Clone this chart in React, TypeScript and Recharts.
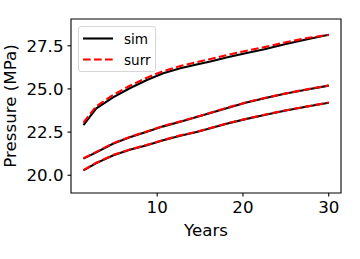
import React from 'react';
import { LineChart, Line, XAxis, YAxis, ReferenceArea, Label } from 'recharts';

// years at which the pressure was sampled
const years = [1.4, 2.9, 4.9, 6.8, 8.8, 10.7, 12.7, 14.6, 16.2, 18.2, 20.3, 22.5, 25, 27.5, 30];

// pressure (MPa), three wells: simulator vs surrogate
const topSim = [22.9, 23.88, 24.52, 25.04, 25.52, 25.91, 26.2, 26.42, 26.59, 26.84, 27.07, 27.3, 27.6, 27.88, 28.14];
const topSurr = [23.05, 24.0, 24.66, 25.18, 25.65, 26.03, 26.33, 26.55, 26.73, 26.97, 27.2, 27.42, 27.7, 27.95, 28.13];
const midSim = [20.96, 21.32, 21.84, 22.2, 22.52, 22.83, 23.1, 23.37, 23.6, 23.9, 24.2, 24.46, 24.73, 24.97, 25.19];
const midSurr = [20.98, 21.35, 21.86, 22.22, 22.54, 22.85, 23.12, 23.38, 23.62, 23.92, 24.21, 24.47, 24.74, 24.98, 25.2];
const botSim = [20.28, 20.7, 21.16, 21.47, 21.74, 22.02, 22.29, 22.5, 22.72, 22.99, 23.25, 23.49, 23.75, 23.98, 24.2];
const botSurr = [20.3, 20.72, 21.18, 21.49, 21.76, 22.04, 22.31, 22.52, 22.74, 23.01, 23.26, 23.5, 23.76, 23.99, 24.21];

const legendNames = ['sim', 'surr'];
const xTicks = [10, 20, 30];
const yTicks = [20, 22.5, 25, 27.5];
const xDomain: [number, number] = [-0.05, 31.43];
const yDomain: [number, number] = [18.97, 29.05];

const data = years.map((t, i) => ({
  t,
  topSim: topSim[i],
  topSurr: topSurr[i],
  midSim: midSim[i],
  midSurr: midSurr[i],
  botSim: botSim[i],
  botSurr: botSurr[i],
}));

const FONT = 'DejaVu Sans';
const tickStyle = { fontFamily: FONT, fontSize: 16.67, fill: '#000' };
const SIM = { stroke: '#000' };
const SURR = { stroke: '#ff0000', strokeDasharray: '7.7 3.3' };

// matplotlib-ish legend box, upper left
const LegendBox = () => (
  <div
    style={{
      position: 'absolute',
      left: 78,
      top: 26,
      width: 78,
      height: 46,
      boxSizing: 'border-box',
      border: '1px solid #d6d6d6',
      borderRadius: 3,
      background: 'rgba(255,255,255,0.8)',
    }}
  >
    <svg width={76} height={44} style={{ display: 'block' }}>
      {legendNames.map((name, i) => {
        const st = i === 0 ? SIM : SURR;
        return (
          <g key={name}>
            <line x1={4} x2={34} y1={11.5 + i * 21} y2={11.5 + i * 21} strokeWidth={2.1} {...st} />
            <text x={45} y={16.5 + i * 21} fontFamily={FONT} fontSize={13.6} fill="#000">
              {name}
            </text>
          </g>
        );
      })}
    </svg>
  </div>
);

export default function App() {
  return (
    <div style={{ position: 'absolute', left: 0, top: 0, width: 360, height: 259, background: '#fff' }}>
      <LineChart width={360} height={259} data={data} margin={{ top: 19, right: 19, left: 0, bottom: 0 }}>
        <XAxis
          type="number"
          dataKey="t"
          domain={xDomain}
          ticks={xTicks}
          allowDataOverflow
          height={66}
          axisLine={false}
          tickLine={{ stroke: '#000', strokeWidth: 1.1 }}
          tickSize={3.5}
          tickMargin={5}
          tick={tickStyle}
        >
          <Label
            content={(p: any) => (
              <text
                x={p.viewBox.x + p.viewBox.width / 2}
                y={236}
                textAnchor="middle"
                fontFamily={FONT}
                fontSize={16.67}
                fill="#000"
              >
                Years
              </text>
            )}
          />
        </XAxis>
        <YAxis
          type="number"
          domain={yDomain}
          ticks={yTicks}
          allowDataOverflow
          width={71}
          axisLine={false}
          tickLine={{ stroke: '#000', strokeWidth: 1.1 }}
          tickSize={3.5}
          tickMargin={4}
          tick={tickStyle}
          tickFormatter={(v: number) => v.toFixed(1)}
        >
          <Label
            content={(p: any) => {
              const cy = p.viewBox.y + p.viewBox.height / 2;
              return (
                <text
                  x={15.5}
                  y={cy}
                  transform={`rotate(-90, 15.5, ${cy})`}
                  textAnchor="middle"
                  fontFamily={FONT}
                  fontSize={16.67}
                  fill="#000"
                >
                  Pressure (MPa)
                </text>
              );
            }}
          />
        </YAxis>
        <ReferenceArea
          x1={xDomain[0]}
          x2={xDomain[1]}
          y1={yDomain[0]}
          y2={yDomain[1]}
          fill="none"
          stroke="#000"
          strokeWidth={1.1}
          ifOverflow="visible"
        />
        <Line dataKey="topSim" {...SIM} strokeWidth={2.1} dot={false} isAnimationActive={false} />
        <Line dataKey="topSurr" {...SURR} strokeWidth={2.1} dot={false} isAnimationActive={false} />
        <Line dataKey="midSim" {...SIM} strokeWidth={2.1} dot={false} isAnimationActive={false} />
        <Line dataKey="midSurr" {...SURR} strokeWidth={2.1} dot={false} isAnimationActive={false} />
        <Line dataKey="botSim" {...SIM} strokeWidth={2.1} dot={false} isAnimationActive={false} />
        <Line dataKey="botSurr" {...SURR} strokeWidth={2.1} dot={false} isAnimationActive={false} />
      </LineChart>
      <LegendBox />
    </div>
  );
}
